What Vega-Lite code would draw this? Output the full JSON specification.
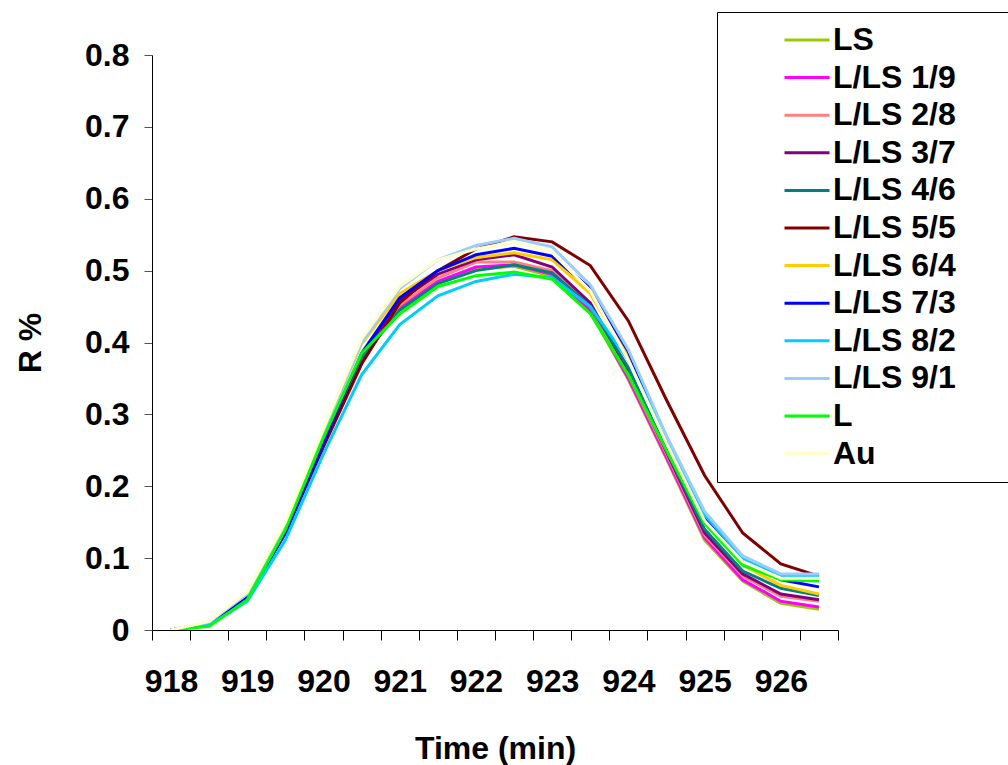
{
  "$schema": "https://vega.github.io/schema/vega-lite/v6.json",
  "autosize": {"type": "none"},
  "width": 686,
  "height": 575,
  "padding": {"left": 152, "top": 55, "right": 170, "bottom": 135},
  "background": "white",
  "config": {
    "view": {"stroke": null},
    "font": "Liberation Sans"
  },
  "data": {
    "values": [
      {"t":918,"s":"LS","r":0},{"t":918.5,"s":"LS","r":0.008},{"t":919,"s":"LS","r":0.045},{"t":919.5,"s":"LS","r":0.137},{"t":920,"s":"LS","r":0.26},{"t":920.5,"s":"LS","r":0.376},{"t":921,"s":"LS","r":0.447},{"t":921.5,"s":"LS","r":0.483},{"t":922,"s":"LS","r":0.502},{"t":922.5,"s":"LS","r":0.506},{"t":923,"s":"LS","r":0.492},{"t":923.5,"s":"LS","r":0.443},{"t":924,"s":"LS","r":0.348},{"t":924.5,"s":"LS","r":0.238},{"t":925,"s":"LS","r":0.125},{"t":925.5,"s":"LS","r":0.068},{"t":926,"s":"LS","r":0.037},{"t":926.5,"s":"LS","r":0.029},
      {"t":918,"s":"L/LS 1/9","r":0},{"t":918.5,"s":"L/LS 1/9","r":0.009},{"t":919,"s":"L/LS 1/9","r":0.046},{"t":919.5,"s":"L/LS 1/9","r":0.138},{"t":920,"s":"L/LS 1/9","r":0.262},{"t":920.5,"s":"L/LS 1/9","r":0.378},{"t":921,"s":"L/LS 1/9","r":0.45},{"t":921.5,"s":"L/LS 1/9","r":0.485},{"t":922,"s":"L/LS 1/9","r":0.505},{"t":922.5,"s":"L/LS 1/9","r":0.508},{"t":923,"s":"L/LS 1/9","r":0.495},{"t":923.5,"s":"L/LS 1/9","r":0.445},{"t":924,"s":"L/LS 1/9","r":0.35},{"t":924.5,"s":"L/LS 1/9","r":0.24},{"t":925,"s":"L/LS 1/9","r":0.128},{"t":925.5,"s":"L/LS 1/9","r":0.07},{"t":926,"s":"L/LS 1/9","r":0.04},{"t":926.5,"s":"L/LS 1/9","r":0.032},
      {"t":918,"s":"L/LS 2/8","r":0},{"t":918.5,"s":"L/LS 2/8","r":0.009},{"t":919,"s":"L/LS 2/8","r":0.047},{"t":919.5,"s":"L/LS 2/8","r":0.14},{"t":920,"s":"L/LS 2/8","r":0.265},{"t":920.5,"s":"L/LS 2/8","r":0.38},{"t":921,"s":"L/LS 2/8","r":0.452},{"t":921.5,"s":"L/LS 2/8","r":0.49},{"t":922,"s":"L/LS 2/8","r":0.512},{"t":922.5,"s":"L/LS 2/8","r":0.512},{"t":923,"s":"L/LS 2/8","r":0.5},{"t":923.5,"s":"L/LS 2/8","r":0.45},{"t":924,"s":"L/LS 2/8","r":0.355},{"t":924.5,"s":"L/LS 2/8","r":0.245},{"t":925,"s":"L/LS 2/8","r":0.132},{"t":925.5,"s":"L/LS 2/8","r":0.075},{"t":926,"s":"L/LS 2/8","r":0.047},{"t":926.5,"s":"L/LS 2/8","r":0.04},
      {"t":918,"s":"L/LS 3/7","r":0},{"t":918.5,"s":"L/LS 3/7","r":0.009},{"t":919,"s":"L/LS 3/7","r":0.047},{"t":919.5,"s":"L/LS 3/7","r":0.14},{"t":920,"s":"L/LS 3/7","r":0.265},{"t":920.5,"s":"L/LS 3/7","r":0.382},{"t":921,"s":"L/LS 3/7","r":0.458},{"t":921.5,"s":"L/LS 3/7","r":0.495},{"t":922,"s":"L/LS 3/7","r":0.515},{"t":922.5,"s":"L/LS 3/7","r":0.522},{"t":923,"s":"L/LS 3/7","r":0.505},{"t":923.5,"s":"L/LS 3/7","r":0.455},{"t":924,"s":"L/LS 3/7","r":0.36},{"t":924.5,"s":"L/LS 3/7","r":0.248},{"t":925,"s":"L/LS 3/7","r":0.135},{"t":925.5,"s":"L/LS 3/7","r":0.078},{"t":926,"s":"L/LS 3/7","r":0.05},{"t":926.5,"s":"L/LS 3/7","r":0.042},
      {"t":918,"s":"L/LS 4/6","r":0},{"t":918.5,"s":"L/LS 4/6","r":0.009},{"t":919,"s":"L/LS 4/6","r":0.046},{"t":919.5,"s":"L/LS 4/6","r":0.138},{"t":920,"s":"L/LS 4/6","r":0.262},{"t":920.5,"s":"L/LS 4/6","r":0.378},{"t":921,"s":"L/LS 4/6","r":0.445},{"t":921.5,"s":"L/LS 4/6","r":0.482},{"t":922,"s":"L/LS 4/6","r":0.5},{"t":922.5,"s":"L/LS 4/6","r":0.508},{"t":923,"s":"L/LS 4/6","r":0.497},{"t":923.5,"s":"L/LS 4/6","r":0.45},{"t":924,"s":"L/LS 4/6","r":0.365},{"t":924.5,"s":"L/LS 4/6","r":0.25},{"t":925,"s":"L/LS 4/6","r":0.14},{"t":925.5,"s":"L/LS 4/6","r":0.082},{"t":926,"s":"L/LS 4/6","r":0.058},{"t":926.5,"s":"L/LS 4/6","r":0.048},
      {"t":918,"s":"L/LS 5/5","r":0},{"t":918.5,"s":"L/LS 5/5","r":0.008},{"t":919,"s":"L/LS 5/5","r":0.045},{"t":919.5,"s":"L/LS 5/5","r":0.135},{"t":920,"s":"L/LS 5/5","r":0.255},{"t":920.5,"s":"L/LS 5/5","r":0.37},{"t":921,"s":"L/LS 5/5","r":0.455},{"t":921.5,"s":"L/LS 5/5","r":0.5},{"t":922,"s":"L/LS 5/5","r":0.53},{"t":922.5,"s":"L/LS 5/5","r":0.547},{"t":923,"s":"L/LS 5/5","r":0.54},{"t":923.5,"s":"L/LS 5/5","r":0.507},{"t":924,"s":"L/LS 5/5","r":0.43},{"t":924.5,"s":"L/LS 5/5","r":0.32},{"t":925,"s":"L/LS 5/5","r":0.215},{"t":925.5,"s":"L/LS 5/5","r":0.135},{"t":926,"s":"L/LS 5/5","r":0.092},{"t":926.5,"s":"L/LS 5/5","r":0.075},
      {"t":918,"s":"L/LS 6/4","r":0},{"t":918.5,"s":"L/LS 6/4","r":0.011},{"t":919,"s":"L/LS 6/4","r":0.052},{"t":919.5,"s":"L/LS 6/4","r":0.148},{"t":920,"s":"L/LS 6/4","r":0.275},{"t":920.5,"s":"L/LS 6/4","r":0.398},{"t":921,"s":"L/LS 6/4","r":0.468},{"t":921.5,"s":"L/LS 6/4","r":0.5},{"t":922,"s":"L/LS 6/4","r":0.518},{"t":922.5,"s":"L/LS 6/4","r":0.525},{"t":923,"s":"L/LS 6/4","r":0.515},{"t":923.5,"s":"L/LS 6/4","r":0.468},{"t":924,"s":"L/LS 6/4","r":0.38},{"t":924.5,"s":"L/LS 6/4","r":0.262},{"t":925,"s":"L/LS 6/4","r":0.152},{"t":925.5,"s":"L/LS 6/4","r":0.09},{"t":926,"s":"L/LS 6/4","r":0.062},{"t":926.5,"s":"L/LS 6/4","r":0.05},
      {"t":918,"s":"L/LS 7/3","r":0},{"t":918.5,"s":"L/LS 7/3","r":0.009},{"t":919,"s":"L/LS 7/3","r":0.045},{"t":919.5,"s":"L/LS 7/3","r":0.135},{"t":920,"s":"L/LS 7/3","r":0.26},{"t":920.5,"s":"L/LS 7/3","r":0.385},{"t":921,"s":"L/LS 7/3","r":0.462},{"t":921.5,"s":"L/LS 7/3","r":0.5},{"t":922,"s":"L/LS 7/3","r":0.522},{"t":922.5,"s":"L/LS 7/3","r":0.531},{"t":923,"s":"L/LS 7/3","r":0.52},{"t":923.5,"s":"L/LS 7/3","r":0.475},{"t":924,"s":"L/LS 7/3","r":0.387},{"t":924.5,"s":"L/LS 7/3","r":0.265},{"t":925,"s":"L/LS 7/3","r":0.158},{"t":925.5,"s":"L/LS 7/3","r":0.095},{"t":926,"s":"L/LS 7/3","r":0.07},{"t":926.5,"s":"L/LS 7/3","r":0.06},
      {"t":918,"s":"L/LS 8/2","r":0},{"t":918.5,"s":"L/LS 8/2","r":0.007},{"t":919,"s":"L/LS 8/2","r":0.04},{"t":919.5,"s":"L/LS 8/2","r":0.125},{"t":920,"s":"L/LS 8/2","r":0.245},{"t":920.5,"s":"L/LS 8/2","r":0.355},{"t":921,"s":"L/LS 8/2","r":0.425},{"t":921.5,"s":"L/LS 8/2","r":0.465},{"t":922,"s":"L/LS 8/2","r":0.485},{"t":922.5,"s":"L/LS 8/2","r":0.495},{"t":923,"s":"L/LS 8/2","r":0.49},{"t":923.5,"s":"L/LS 8/2","r":0.45},{"t":924,"s":"L/LS 8/2","r":0.375},{"t":924.5,"s":"L/LS 8/2","r":0.265},{"t":925,"s":"L/LS 8/2","r":0.16},{"t":925.5,"s":"L/LS 8/2","r":0.1},{"t":926,"s":"L/LS 8/2","r":0.075},{"t":926.5,"s":"L/LS 8/2","r":0.075},
      {"t":918,"s":"L/LS 9/1","r":0},{"t":918.5,"s":"L/LS 9/1","r":0.011},{"t":919,"s":"L/LS 9/1","r":0.05},{"t":919.5,"s":"L/LS 9/1","r":0.145},{"t":920,"s":"L/LS 9/1","r":0.275},{"t":920.5,"s":"L/LS 9/1","r":0.4},{"t":921,"s":"L/LS 9/1","r":0.475},{"t":921.5,"s":"L/LS 9/1","r":0.515},{"t":922,"s":"L/LS 9/1","r":0.535},{"t":922.5,"s":"L/LS 9/1","r":0.545},{"t":923,"s":"L/LS 9/1","r":0.533},{"t":923.5,"s":"L/LS 9/1","r":0.48},{"t":924,"s":"L/LS 9/1","r":0.39},{"t":924.5,"s":"L/LS 9/1","r":0.27},{"t":925,"s":"L/LS 9/1","r":0.165},{"t":925.5,"s":"L/LS 9/1","r":0.103},{"t":926,"s":"L/LS 9/1","r":0.078},{"t":926.5,"s":"L/LS 9/1","r":0.078},
      {"t":918,"s":"L","r":0},{"t":918.5,"s":"L","r":0.005},{"t":919,"s":"L","r":0.042},{"t":919.5,"s":"L","r":0.14},{"t":920,"s":"L","r":0.268},{"t":920.5,"s":"L","r":0.385},{"t":921,"s":"L","r":0.44},{"t":921.5,"s":"L","r":0.478},{"t":922,"s":"L","r":0.493},{"t":922.5,"s":"L","r":0.498},{"t":923,"s":"L","r":0.488},{"t":923.5,"s":"L","r":0.44},{"t":924,"s":"L","r":0.355},{"t":924.5,"s":"L","r":0.25},{"t":925,"s":"L","r":0.148},{"t":925.5,"s":"L","r":0.09},{"t":926,"s":"L","r":0.07},{"t":926.5,"s":"L","r":0.068},
      {"t":918,"s":"Au","r":0},{"t":918.5,"s":"Au","r":0.012},{"t":919,"s":"Au","r":0.053},{"t":919.5,"s":"Au","r":0.15},{"t":920,"s":"Au","r":0.28},{"t":920.5,"s":"Au","r":0.405},{"t":921,"s":"Au","r":0.478},{"t":921.5,"s":"Au","r":0.515},{"t":922,"s":"Au","r":0.53},{"t":922.5,"s":"Au","r":0.54},{"t":923,"s":"Au","r":0.525},{"t":923.5,"s":"Au","r":0.472},{"t":924,"s":"Au","r":0.375},{"t":924.5,"s":"Au","r":0.26},{"t":925,"s":"Au","r":0.152},{"t":925.5,"s":"Au","r":0.095},{"t":926,"s":"Au","r":0.072},{"t":926.5,"s":"Au","r":0.072}
    ]
  },
  "mark": {"type": "line", "strokeWidth": 3, "clip": true},
  "encoding": {
    "x": {
      "field": "t", "type": "quantitative",
      "scale": {"domain": [917.75, 926.75], "nice": false, "zero": false},
      "axis": {
        "values": [917.75, 918, 918.25, 918.75, 919, 919.25, 919.75, 920, 920.25, 920.75, 921, 921.25, 921.75, 922, 922.25, 922.75, 923, 923.25, 923.75, 924, 924.25, 924.75, 925, 925.25, 925.75, 926, 926.25, 926.75],
        "labelExpr": "datum.value % 1 === 0 ? format(datum.value, 'd') : ''",
        "labelOverlap": false, "labelFlush": false, "labelBound": false,
        "grid": false,
        "domainColor": "black", "domainWidth": 1,
        "tickColor": "black", "tickSize": 10, "tickWidth": 1,
        "tickOpacity": {"condition": {"test": "datum.value % 1 === 0", "value": 0}, "value": 1},
        "labelFont": "Liberation Sans", "labelFontWeight": "bold", "labelFontSize": 32, "labelColor": "black",
        "labelPadding": 26,
        "title": "Time (min)",
        "titleFont": "Liberation Sans", "titleFontWeight": "bold", "titleFontSize": 32, "titleColor": "black",
        "titleY": 118, "titleBaseline": "middle"
      }
    },
    "y": {
      "field": "r", "type": "quantitative",
      "scale": {"domain": [0, 0.8], "nice": false},
      "axis": {
        "values": [0, 0.1, 0.2, 0.3, 0.4, 0.5, 0.6, 0.7, 0.8],
        "format": "~g",
        "grid": false,
        "domainColor": "black", "domainWidth": 1,
        "tickColor": "#555", "tickSize": 8, "tickWidth": 1,
        "labelFont": "Liberation Sans", "labelFontWeight": "bold", "labelFontSize": 32, "labelColor": "black",
        "labelPadding": 15,
        "title": "R %",
        "titleFont": "Liberation Sans", "titleFontWeight": "bold", "titleFontSize": 32, "titleColor": "black",
        "titleX": -122, "titleBaseline": "middle"
      }
    },
    "color": {
      "field": "s", "type": "nominal",
      "scale": {
        "domain": ["LS", "L/LS 1/9", "L/LS 2/8", "L/LS 3/7", "L/LS 4/6", "L/LS 5/5", "L/LS 6/4", "L/LS 7/3", "L/LS 8/2", "L/LS 9/1", "L", "Au"],
        "range": ["#99CC00", "#FF00FF", "#FF8080", "#800080", "#008080", "#800000", "#FFCC00", "#0000FF", "#00CCFF", "#99CCFF", "#00FF00", "#FFFFCC"]
      },
      "legend": {
        "title": " ",
        "titleOrient": "right",
        "titlePadding": 80,
        "titleFontSize": 2,
        "orient": "none",
        "legendX": 565,
        "legendY": -43,
        "strokeColor": "black",
        "fillColor": "white",
        "padding": 10,
        "symbolType": "stroke",
        "symbolSize": 2025,
        "symbolStrokeWidth": 3,
        "symbolOffset": 56,
        "clipHeight": 36,
        "rowPadding": 1.6,
        "labelOffset": 2,
        "labelFont": "Liberation Sans", "labelFontWeight": "bold", "labelFontSize": 32, "labelColor": "black",
        "labelLimit": 400
      }
    },
    "strokeWidth": {"condition": {"test": "datum.s === 'Au'", "value": 1.5}, "value": 3}
  }
}
